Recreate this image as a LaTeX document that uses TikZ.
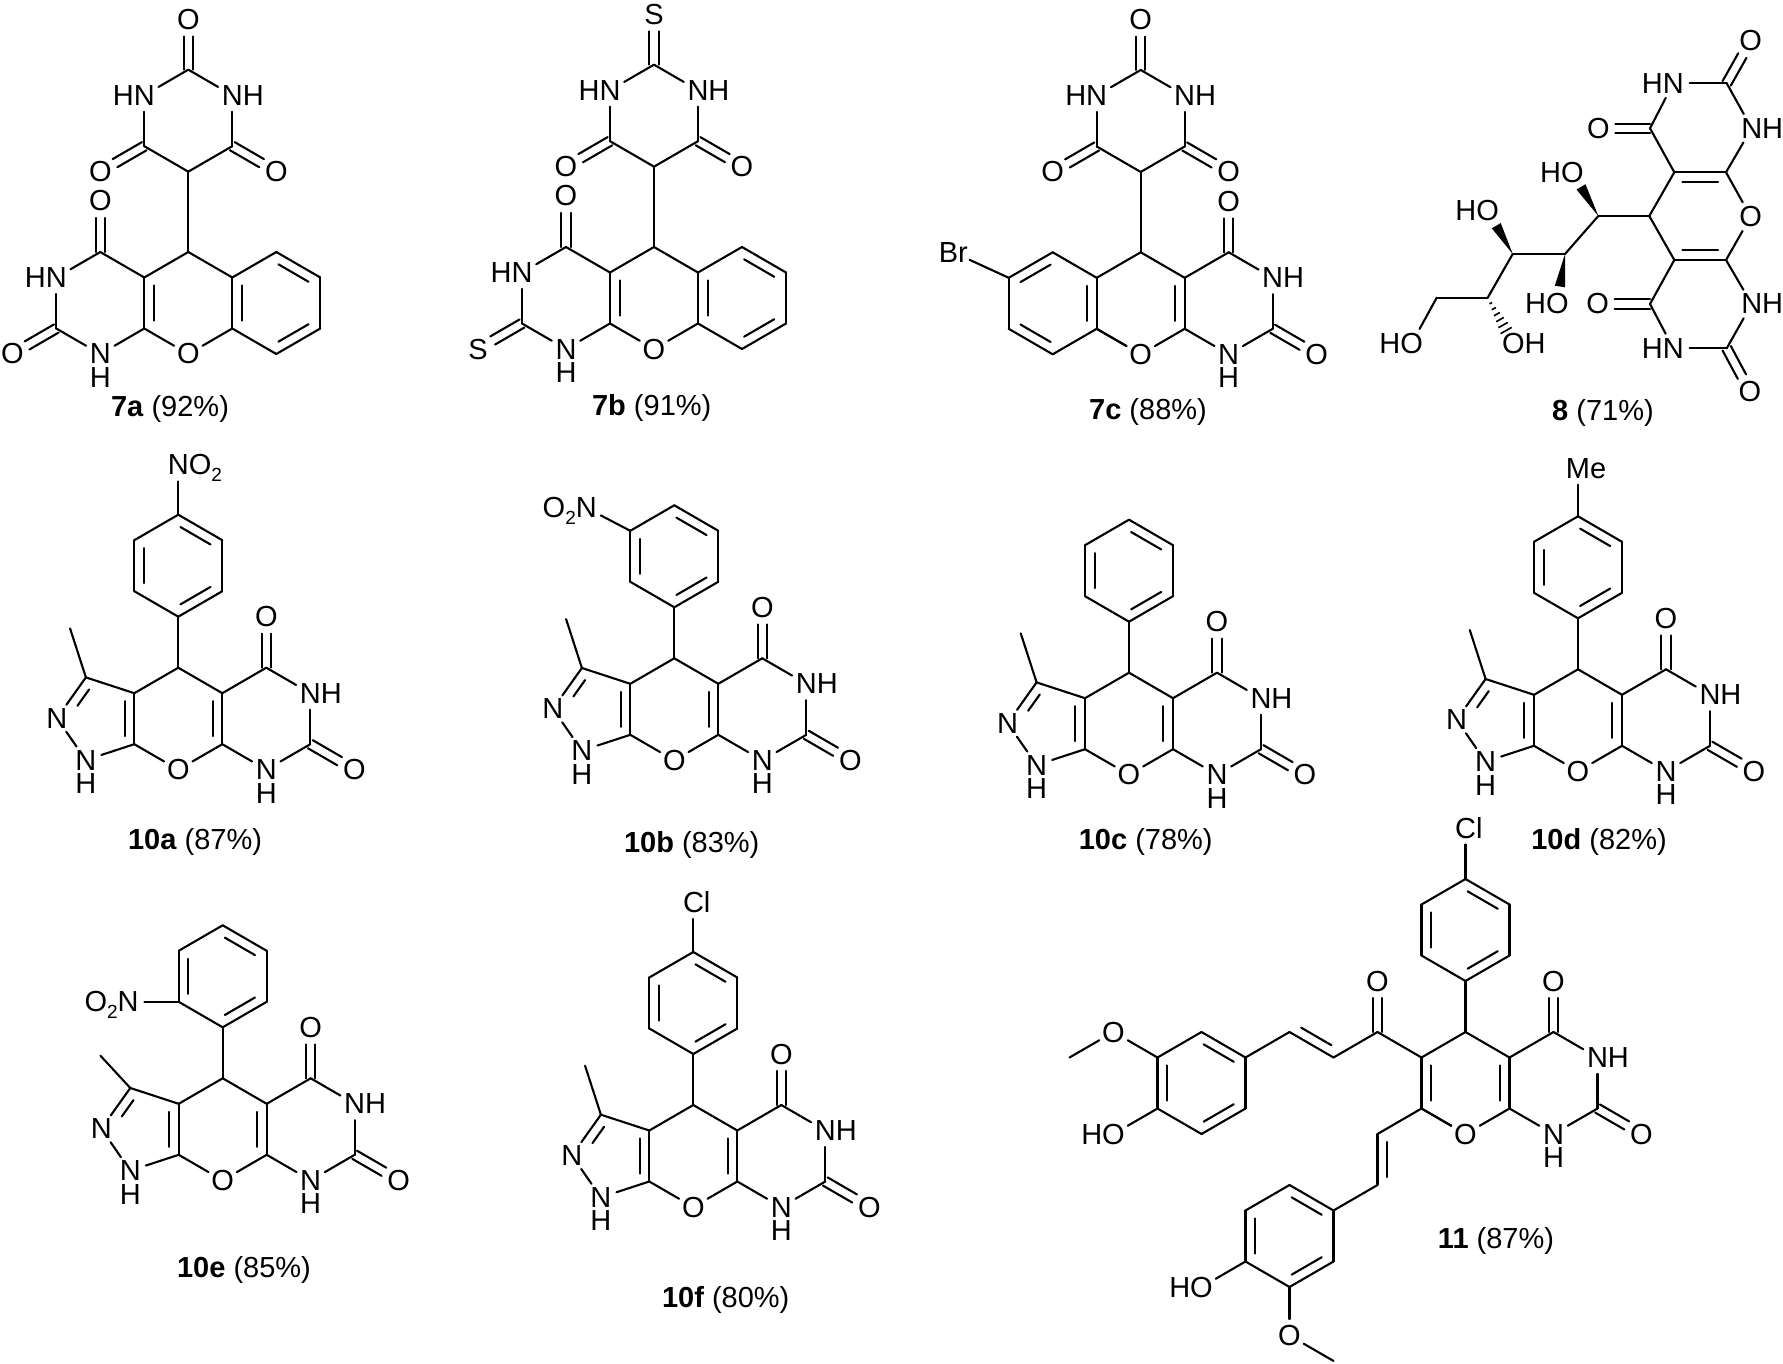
\documentclass[tikz,border=0pt]{standalone}
\usepackage{fontspec}
\setmainfont{Liberation Sans}
\usetikzlibrary{calc}
\newcommand\atomfont{\fontsize{14.5}{17}\selectfont}
\newcommand\subtwo{\raisebox{-3.3pt}[0pt][0pt]{\fontsize{9.5}{10}\selectfont 2}}
\newcommand\HNl{\llap{H}N}
\newcommand\NHr{N\rlap{H}}
\newcommand\NHd{N\llap{\raisebox{-11.7pt}[0pt][0pt]{H}}}
\newcommand\HOl{\llap{H}O}
\newcommand\OHr{O\rlap{H}}
\newcommand\NOtwo{N\rlap{O\subtwo}}
\newcommand\OtwoN{\llap{O\subtwo}N}
\newcommand\Clsh{\makebox[0pt][c]{\hspace{3.4pt}Cl}}
\newcommand\Mesh{\makebox[0pt][c]{\hspace{8pt}Me}}
\newcommand\dblgap{4.8pt}
\tikzset{
  bond/.style={line width=1.05pt,line cap=round,line join=round,black},
  atom/.style={circle,inner sep=0pt,minimum size=16pt,text height=10pt,text depth=0pt,font=\atomfont,black},
  caption/.style={inner sep=0pt,font=\atomfont,black},
  mol/.style n args={3}{shift={(#1*0.5pt,-#2*0.5pt)},x=22pt,y=-12.75pt,name prefix=#3-}
}
% atoms
\newcommand\Cc[2]{\coordinate (#1) at (#2);}
\newcommand\At[3]{\node[atom] (#1) at (#2) {#3};}
% bonds
\newcommand\bonds[1]{\foreach \p/\q in {#1} {\draw[bond] (\p) -- (\q);}}
\newcommand\bD[2]{\draw[bond] (#1) -- (#2); \draw[bond] ($(#1)!4pt!(#2)!\dblgap!90:(#2)$) -- ($(#2)!4pt!(#1)!\dblgap!-90:(#1)$);}
\newcommand\bDn[2]{\draw[bond] (#1) -- (#2); \draw[bond] ($(#1)!4pt!(#2)!\dblgap!90:(#2)$) -- ($(#2)!11pt!(#1)!\dblgap!-90:(#1)$);}
\newcommand\bO[2]{\draw[bond] ($(#1)!2.35pt!90:(#2)$) -- ($(#2)!8.5pt!(#1)!2.35pt!-90:(#1)$);
  \draw[bond] ($(#1)!2.35pt!-90:(#2)$) -- ($(#2)!8.5pt!(#1)!2.35pt!90:(#1)$);}
\newcommand\bW[2]{\fill[black] (#1) -- ($(#2)!8.5pt!(#1)!2.6pt!90:(#1)$) -- ($(#2)!8.5pt!(#1)!2.6pt!-90:(#1)$) -- cycle;}
\newcommand\bH[2]{\foreach \t/\w in {.12/.7,.24/1.2,.36/1.7,.48/2.2,.60/2.7,.72/3.2} {\draw[line width=.8pt,black] ($(#1)!\t!(#2)!\w pt!90:(#2)$) -- ($(#1)!\t!(#2)!\w pt!-90:(#2)$);}}
% shared fragments
\newcommand\pyran{\Cc{c4}{0,0}\Cc{l1}{-1,1}\Cc{l3}{-1,3}\At{o1}{0,4}{O}\Cc{r3}{1,3}\Cc{r1}{1,1}
  \bonds{c4/l1,l3/o1,o1/r3,r1/c4}\bD{r3}{r1}}
\newcommand\pyrimR{\Cc{co}{2,0}\At{oc}{2,-2}{O}\At{n3}{3,1}{\NHr}\Cc{c2}{3,3}\At{x2}{4,4}{O}\At{n1}{2,4}{\NHd}
  \bonds{r1/co,co/n3,n3/c2,c2/n1,n1/r3}\bO{co}{oc}\bO{c2}{x2}}
\newcommand\phenyl{\Cc{i0}{0,-2}\Cc{a1}{-1,-3}\Cc{a2}{-1,-5}\Cc{a3}{0,-6}\Cc{a4}{1,-5}\Cc{a5}{1,-3}
  \bonds{c4/i0,i0/a1,a2/a3,a4/a5}\bD{a2}{a1}\bD{i0}{a5}\bD{a4}{a3}}
\newcommand\pyrazole[1]{\Cc{z3}{-2.1,.38}\At{z2}{-2.76,1.98}{N}\At{z1}{-2.1,3.62}{\NHd}\Cc{me}{#1}
  \bonds{l1/z3,z2/z1,z1/l3,z3/me}\bDn{z3}{z2}\bD{l3}{l1}}
\newcommand\barbtop[1]{\Cc{q}{0,-3.15}\Cc{bl}{-1,-4.15}\Cc{br}{1,-4.15}
  \At{nl}{-1,-6.15}{\HNl}\At{nr}{1,-6.15}{\NHr}\Cc{bt}{0,-7.15}\At{xt}{0,-9.12}{#1}
  \At{ol}{-2,-3.15}{O}\At{or}{2,-3.15}{O}
  \bonds{c4/q,q/bl,q/br,bl/nl,br/nr,nl/bt,nr/bt}\bO{bl}{ol}\bO{br}{or}\bO{bt}{xt}}
\newcommand\chromL[1]{\Cc{c4}{0,0}\Cc{l1}{-1,1}\Cc{l3}{-1,3}\At{o1}{0,4}{O}\Cc{r3}{1,3}\Cc{r1}{1,1}
  \Cc{p0}{2,0}\Cc{p1}{3,1}\Cc{p3}{3,3}\Cc{p4}{2,4}
  \Cc{co}{-2,0}\At{oc}{-2,-2}{O}\At{n3}{-3,1}{\HNl}\Cc{c2}{-3,3}\At{x2}{-4,4}{#1}\At{n1}{-2,4}{\NHd}
  \bonds{c4/l1,l3/o1,o1/r3,r1/c4,r1/p0,p1/p3,p4/r3,l1/co,co/n3,n3/c2,c2/n1,n1/l3}
  \bD{l1}{l3}\bD{r1}{r3}\bD{p1}{p0}\bD{p4}{p3}\bO{co}{oc}\bO{c2}{x2}}
\begin{document}
\begin{tikzpicture}[x=0.5pt,y=-0.5pt]
\path[use as bounding box,fill=white] (0,0) rectangle (1783,1364);

% 7a
\begin{scope}[mol={188.3}{252}{m7a}]
\chromL{O}\barbtop{O}
\end{scope}
\node[caption] (cap7a) at (170,409) {\textbf{7a} (92\%)};

% 7b
\begin{scope}[mol={654}{247}{m7b}]
\chromL{S}\barbtop{S}
\end{scope}
\node[caption] (cap7b) at (651.7,408) {\textbf{7b} (91\%)};

% 7c
\begin{scope}[mol={1140.7}{252.3}{m7c}]
\pyran\pyrimR\barbtop{O}
\Cc{p0}{-2,0}\Cc{p1}{-3,1}\Cc{p3}{-3,3}\Cc{p4}{-2,4}\At{brm}{-4.26,0}{Br}
\bonds{l1/p0,p1/p3,p4/l3,l3/o1}
\bD{p0}{p1}\bD{p3}{p4}\bD{l3}{l1}
\draw[bond] (p1) -- (brm);
\end{scope}
\node[caption] (cap7c) at (1148,411.7) {\textbf{7c} (88\%)};

% 8
\begin{scope}[name prefix=m8-]
\At{ot}{1750.7,40.7}{O}\Cc{c2t}{1726.7,83.3}\At{nt}{1673.3,83.3}{\HNl}\Cc{c4t}{1650,128.3}\At{olt}{1598.3,128.3}{O}
\At{nr}{1751.7,128.3}{\NHr}\Cc{a1}{1674.3,172.3}\Cc{a2}{1726,172.3}\At{orr}{1750.7,216.7}{O}\Cc{c5}{1649.3,216}
\Cc{b1}{1674.3,260}\Cc{b2}{1726,260}\Cc{c4b}{1650,304}\At{olb}{1597.7,304}{O}\At{nrb}{1751.7,304}{\NHr}
\At{nb}{1673.3,348.3}{\HNl}\Cc{c2b}{1726.7,348.3}\At{ob}{1750,391.7}{O}
\Cc{s1}{1598.3,216}\Cc{s2}{1565,254}\Cc{s3}{1512.7,254}\Cc{s4}{1487.7,297.7}\Cc{s5}{1436.7,297.7}
\At{h1}{1572.3,172.3}{\HOl}\At{h2}{1557.3,303.3}{\HOl}\At{h3}{1487.7,211}{\HOl}\At{h4}{1513.3,343.3}{\OHr}\At{h5}{1411.7,343.3}{\HOl}
\bonds{nt/c2t,c2t/nr,nt/c4t,c4t/a1,nr/a2,a2/orr,a1/c5,c5/b1,orr/b2,b1/c4b,c4b/nb,nb/c2b,c2b/nrb,nrb/b2,c5/s1,s1/s2,s2/s3,s3/s4,s4/s5,s5/h5}
\bO{c2t}{ot}\bO{c4t}{olt}\bO{c4b}{olb}\bO{c2b}{ob}
\bD{a2}{a1}\bD{b1}{b2}
\bW{s1}{h1}\bW{s2}{h2}\bW{s3}{h3}\bH{s4}{h4}
\end{scope}
\node[caption] (cap8) at (1603,413) {\textbf{8} (71\%)};

% 10a
\begin{scope}[mol={178.3}{667.7}{m10a}]
\pyran\pyrimR\phenyl\pyrazole{-2.46,-1.54}
\At{sub}{0,-7.95}{\NOtwo}\bonds{a3/sub}
\end{scope}
\node[caption] (cap10a) at (195,841.7) {\textbf{10a} (87\%)};

% 10b
\begin{scope}[mol={674.3}{658.3}{m10b}]
\pyran\pyrimR\phenyl\pyrazole{-2.46,-1.54}
\At{sub}{-2,-5.9}{\OtwoN}\bonds{a2/sub}
\end{scope}
\node[caption] (cap10b) at (691.7,845) {\textbf{10b} (83\%)};

% 10c
\begin{scope}[mol={1129}{672.7}{m10c}]
\pyran\pyrimR\phenyl\pyrazole{-2.46,-1.54}
\end{scope}
\node[caption] (cap10c) at (1145.7,842.3) {\textbf{10c} (78\%)};

% 10d
\begin{scope}[mol={1578}{669.3}{m10d}]
\pyran\pyrimR\phenyl\pyrazole{-2.46,-1.54}
\At{sub}{0,-7.88}{\Mesh}\bonds{a3/sub}
\end{scope}
\node[caption] (cap10d) at (1599,841.7) {\textbf{10d} (82\%)};

% 10e
\begin{scope}[mol={222.7}{1078.3}{m10e}]
\pyran\pyrimR\phenyl\pyrazole{-2.78,-.89}
\At{sub}{-2.15,-3}{\OtwoN}\bonds{a1/sub}
\end{scope}
\node[caption] (cap10e) at (244,1270) {\textbf{10e} (85\%)};

% 10f
\begin{scope}[mol={693.3}{1105}{m10f}]
\pyran\pyrimR\phenyl\pyrazole{-2.46,-1.54}
\At{sub}{0,-7.94}{\Clsh}\bonds{a3/sub}
\end{scope}
\node[caption] (cap10f) at (725.7,1300) {\textbf{10f} (80\%)};

% 11
\begin{scope}[mol={1465.5}{1032}{m11}]
\pyran\pyrimR\phenyl
\At{sub}{0,-8}{\Clsh}\bonds{a3/sub}
\Cc{k}{-2,0}\At{ok}{-2,-2}{O}\Cc{v1}{-3,1}\Cc{v2}{-4,0}
\Cc{d1}{-5,1}\Cc{d2}{-6,0}\Cc{d3}{-7,1}\Cc{d4}{-7,3}\Cc{d5}{-6,4}\Cc{d6}{-5,3}
\At{dm}{-8,0}{O}\Cc{dme}{-9,1}\At{dh}{-8,4}{\HOl}
\bonds{l3/o1,l1/k,k/v1,v2/d1,d2/d3,d4/d5,d6/d1,d3/dm,dm/dme,d4/dh}
\bO{k}{ok}\bD{l1}{l3}\bD{v2}{v1}\bD{d1}{d2}\bD{d3}{d4}\bD{d5}{d6}
\Cc{w1}{-2,4}\Cc{w2}{-2,6}\Cc{e1}{-3,7}\Cc{e2}{-4,6}\Cc{e3}{-5,7}\Cc{e4}{-5,9}\Cc{e5}{-4,10}\Cc{e6}{-3,9}
\At{eh}{-6,10}{\HOl}\At{em}{-4,11.9}{O}\Cc{eme}{-3,12.9}
\bonds{l3/w1,w2/e1,e2/e3,e4/e5,e6/e1,e4/eh,e5/em,em/eme}
\bD{w1}{w2}\bD{e1}{e2}\bD{e3}{e4}\bD{e5}{e6}
\end{scope}
\node[caption] (cap11) at (1496,1241) {\textbf{11} (87\%)};
\end{tikzpicture}
\end{document}
